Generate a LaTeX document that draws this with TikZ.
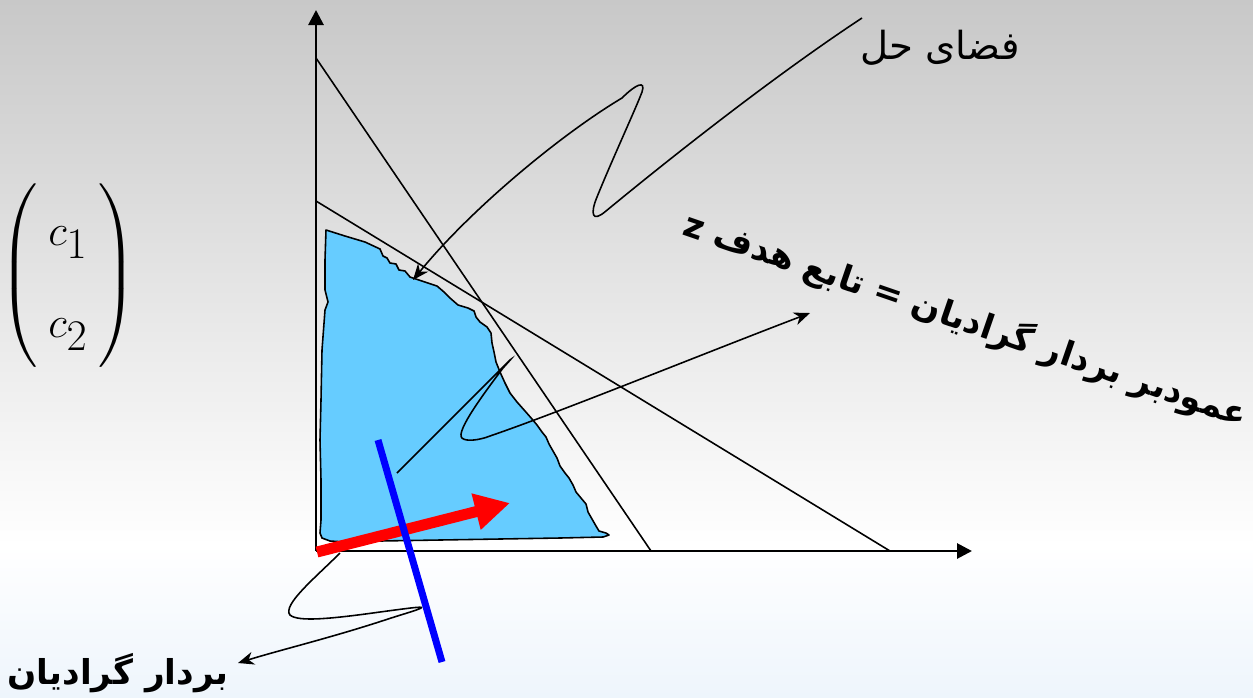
\documentclass[tikz,border=0pt]{standalone}
\usepackage{amsmath}
\usepackage{fontspec}
\newfontfamily\arabicfont[Script=Arabic]{DejaVu Sans}
\TeXXeTstate=1
\usetikzlibrary{arrows.meta,positioning}
\definecolor{regionblue}{RGB}{102,204,255}
\definecolor{bgtop}{RGB}{200,200,200}
\definecolor{bgbottom}{RGB}{238,245,252}

\begin{document}
\begin{tikzpicture}[
x=0.02cm, y=-0.02cm,
axisline/.style={line width=1.6pt, -{Triangle[length=3mm, width=3mm]}},
bound/.style={line width=0.9pt},
curvearr/.style={line width=0.9pt, -{Stealth[length=3.2mm, width=2.6mm, inset=1mm]}},
lbl/.style={inner sep=0pt, font=\arabicfont\fontsize{22}{26}\selectfont},
boldlbl/.style={inner sep=0pt, font=\arabicfont\bfseries\fontsize{19.5}{24}\selectfont}
]

% Background
\shade[top color=bgtop, bottom color=white] (0,0) rectangle (1253,545);
\shade[top color=white, bottom color=bgbottom] (0,545) rectangle (1253,697);
\useasboundingbox (0,0) rectangle (1253,697);

% Points
\coordinate (O) at (316,551);
\coordinate (ytip) at (316,10);
\coordinate (xtip) at (972,551);
\coordinate (a1) at (316,58);
\coordinate (b1) at (651,551);
\coordinate (a2) at (316,201);
\coordinate (b2) at (890,551);

% Feasible region
\draw[bound, fill=regionblue, line join=round] (326,230) -- (345,236) -- (365,242) -- (380,249)
  -- (383,256) -- (387,258) -- (390,263) -- (396,264) -- (399,270) -- (405,271) -- (410,277)
  -- (416,279) -- (428,283) -- (437,286) -- (444,292) -- (450,298) -- (458,305) -- (468,308)
  -- (474,311) -- (476,317) -- (480,322) -- (487,327) -- (491,333) -- (492,343) -- (494,352)
  -- (496,362) -- (500,372) -- (505,383) -- (510,393) -- (517,402) -- (525,411) -- (532,419)
  -- (537,425) -- (542,432) -- (546,437) -- (549,444) -- (553,451) -- (557,458) -- (560,466)
  -- (565,473) -- (569,478) -- (573,485) -- (576,492) -- (581,498) -- (586,504) -- (588,512)
  -- (592,519) -- (596,526) -- (599,531) -- (606,533) -- (609,535) -- (603,537) -- (560,538)
  -- (500,539) -- (440,540) -- (380,541) -- (345,542) -- (330,541) -- (322,538) -- (320,533)
  -- (321,520) -- (321,480) -- (320,440) -- (321,400) -- (322,350) -- (325,310) -- (328,302)
  -- (325,290) -- (325,260) -- cycle;

% Axes and constraints
\draw[axisline] (O) -- (ytip);
\draw[axisline] (O) -- (xtip);
\draw[bound] (a1) -- (b1);
\draw[bound] (a2) -- (b2);

% Labels
\node[lbl] (sol) at (940,48) {\beginR فضای حل\endR};
\node[boldlbl, rotate=-19] (obj) at (966,320) {\beginR عمودبر بردار گرادیان = تابع هدف z\endR};
\node[boldlbl] (grad) at (118,673) {\beginR بردار گرادیان\endR};
\node[inner sep=0pt, font=\fontsize{38}{44}\selectfont] (cvec) at (68,276)
  {$\setlength{\arraycolsep}{6pt}\left(\begin{array}{c} c_1\\[8pt] c_2\end{array}\right)$};

% Callouts
\coordinate (s0) at (862,18);
\coordinate (s1) at (413,280);
\coordinate (m0) at (397,473);
\coordinate (m1) at (810,313);
\coordinate (g0) at (340,553);
\coordinate (g1) at (238,663);

\draw[curvearr] (s0) .. controls (780,72) and (680,150) .. (606,211)
  .. controls (592,223) and (590,214) .. (597,197)
  .. controls (612,160) and (636,108) .. (642,92)
  .. controls (646,80) and (636,84) .. (622,98)
  .. controls (560,135) and (470,210) .. (s1);
\draw[curvearr] (m0) -- (505,365) .. controls (513,357) and (513,357) .. (503,368)
  .. controls (485,392) and (455,432) .. (462,438)
  .. controls (466,442) and (480,440) .. (490,436)
  .. controls (560,412) and (700,355) .. (m1);
\draw[curvearr] (g0) .. controls (315,578) and (282,605) .. (290,615)
  .. controls (298,622) and (330,619) .. (380,612)
  .. controls (410,608) and (424,606) .. (421,608)
  .. controls (418,610) and (400,615) .. (385,620)
  .. controls (330,638) and (280,650) .. (g1);

% Gradient vector and its normal
\coordinate (gs) at (317,552);
\coordinate (ge) at (510,503);
\draw[red, line width=0.22cm, -{Triangle[length=7mm, width=7mm]}] (gs) -- (ge);
\coordinate (n1) at (378,440);
\coordinate (n2) at (442,662);
\draw[blue, line width=0.14cm] (n1) -- (n2);

\end{tikzpicture}
\end{document}
